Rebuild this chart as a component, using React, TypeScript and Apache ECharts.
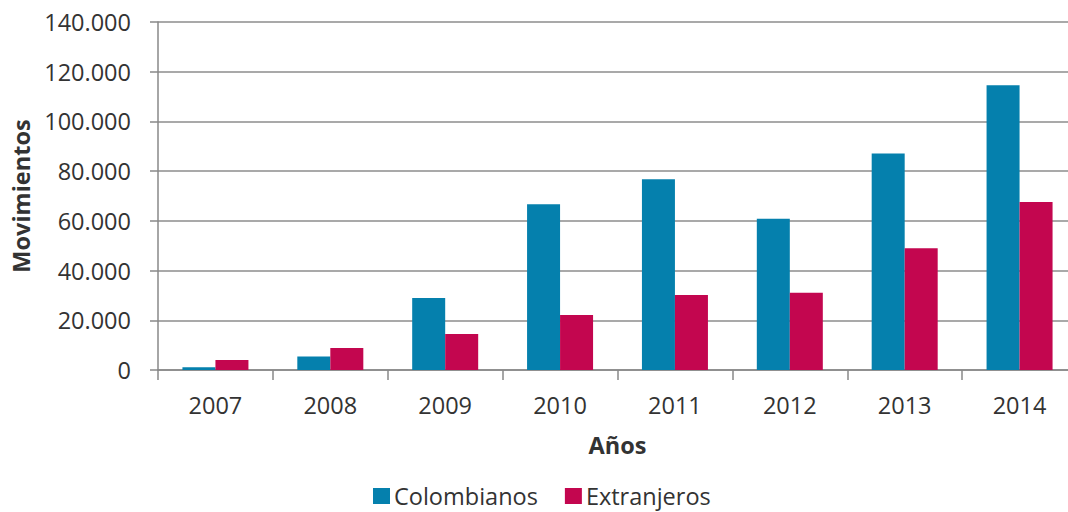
import React, { useEffect, useRef } from "react";
import * as echarts from "echarts";

const years = ["2007", "2008", "2009", "2010", "2011", "2012", "2013", "2014"];
const colombianos = [1100, 5400, 29000, 66700, 76700, 60800, 87100, 114600];
const extranjeros = [4000, 8900, 14500, 22100, 30200, 31100, 49000, 67600];
const seriesNames = ["Colombianos", "Extranjeros"];
const colors = ["#0580AD", "#C3064F"];

const fmt = (v: number) => (v === 0 ? "0" : v.toLocaleString("de-DE"));

export default function App() {
  const ref = useRef<HTMLDivElement>(null);
  useEffect(() => {
    if (!ref.current) return;
    const chart = echarts.init(ref.current, undefined, { renderer: "svg" });
    const font = "'Open Sans', 'Noto Sans', sans-serif";
    const fs = 23.5;
    chart.setOption({
      animation: false,
      textStyle: { fontFamily: font },
      grid: { left: 158, right: 0, top: 22, bottom: 142, containLabel: false },
      legend: {
        data: seriesNames,
        left: 373,
        top: 484,
        padding: 0,
        itemWidth: 17,
        itemHeight: 16,
        itemGap: 27,
        icon: "rect",
        textStyle: { fontSize: fs, color: "#333", fontFamily: font, padding: [0, 0, 0, -1] },
      },
      xAxis: {
        type: "category",
        data: years,
        name: "Años",
        nameLocation: "middle",
        nameGap: 63,
        nameTextStyle: { fontSize: fs, fontWeight: "bold", color: "#333", fontFamily: font },
        axisLine: { lineStyle: { color: "#888", width: 1.5 } },
        axisTick: { show: true, length: 10, alignWithLabel: false, lineStyle: { color: "#888", width: 1.5 } },
        axisLabel: { fontSize: fs, color: "#333", margin: 23, fontFamily: font },
      },
      yAxis: {
        type: "value",
        min: 0,
        max: 140000,
        interval: 20000,
        name: "Movimientos",
        nameLocation: "middle",
        nameGap: 124,
        nameTextStyle: { fontSize: fs, fontWeight: "bold", color: "#333", fontFamily: font },
        axisLine: { show: true, lineStyle: { color: "#888", width: 1.5 } },
        axisTick: { show: true, length: 8, lineStyle: { color: "#888", width: 1.5 } },
        splitLine: { lineStyle: { color: "#8c8c8c", width: 1.5 } },
        axisLabel: { fontSize: fs, color: "#333", margin: 27, formatter: fmt, fontFamily: font },
      },
      series: [
        {
          name: seriesNames[0],
          type: "bar",
          data: colombianos,
          barWidth: 33,
          barGap: "0%",
          itemStyle: { color: colors[0] },
        },
        {
          name: seriesNames[1],
          type: "bar",
          data: extranjeros,
          barWidth: 33,
          barGap: "0%",
          itemStyle: { color: colors[1] },
        },
      ],
    });
    return () => chart.dispose();
  }, []);
  return (
    <div style={{ position: "absolute", left: 0, top: 0, width: 1068, height: 512, overflow: "hidden", background: "#fff" }}>
      <div ref={ref} style={{ width: 1077, height: 512 }} />
    </div>
  );
}
